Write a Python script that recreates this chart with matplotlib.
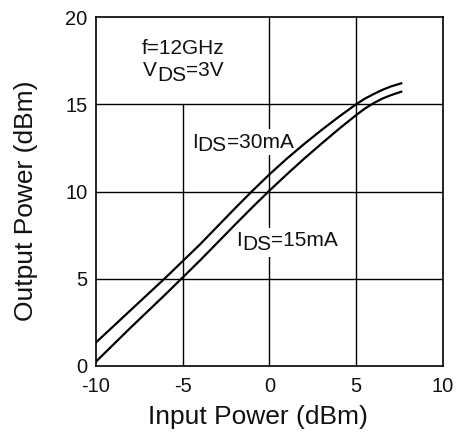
import matplotlib
matplotlib.use('Agg')
import matplotlib.pyplot as plt
from matplotlib.transforms import offset_copy

plt.rcParams['font.family'] = ['Liberation Sans', 'DejaVu Sans']
plt.rcParams['axes.unicode_minus'] = False

# input power (dBm)
pin = [-10, -8, -6, -4, -2, -1, 0, 1, 2, 3, 4, 5, 5.5, 6, 6.5, 7, 7.6]
# output power (dBm)
pout_30mA = [1.35, 3.2, 5.05, 6.97, 9.02, 10.02, 10.98, 11.88, 12.72, 13.52, 14.28, 15.0, 15.32, 15.58, 15.82, 16.02, 16.2]
pout_15mA = [0.25, 2.2, 4.1, 6.05, 8.08, 9.08, 10.05, 10.98, 11.88, 12.74, 13.58, 14.38, 14.75, 15.06, 15.32, 15.52, 15.72]

xticks = [-10, -5, 0, 5, 10]
yticks = [0, 5, 10, 15, 20]


def subLabel(ax, x, y, parts, size):
    # lay text pieces side by side, each piece (text, drop in points)
    fig = ax.figure
    renderer = fig.canvas.get_renderer()
    dx = 0
    for s, dy in parts:
        tr = offset_copy(ax.transData, fig=fig, x=dx, y=-dy, units='points')
        # white box under the piece, hides the grid
        ax.text(x, y, s, transform=tr, fontsize=size, va='baseline', ha='left',
                color=(0, 0, 0, 0), zorder=2,
                bbox=dict(facecolor='white', edgecolor='none', pad=2.5))
        t = ax.text(x, y, s, transform=tr, fontsize=size, va='baseline', ha='left',
                    color='#111111', zorder=3)
        w = t.get_window_extent(renderer).width
        dx += w * 72.0 / fig.dpi


fig = plt.figure(figsize=(4.57, 4.37), dpi=100)
ax = fig.add_axes([0.210, 0.1625, 0.759, 0.7985])

# grid drawn by hand, the -5 line stops under the condition box
ax.vlines([0, 5], 0, 20, color='black', linewidth=1.0, zorder=1)
ax.vlines([-5], 0, 15, color='black', linewidth=1.0, zorder=1)
ax.hlines([5, 10, 15], -10, 10, color='black', linewidth=1.0, zorder=1)

ax.plot(pin, pout_30mA, color='black', linewidth=1.6, zorder=4)
ax.plot(pin, pout_15mA, color='black', linewidth=1.6, zorder=4)

ax.set_xlim(-10, 10)
ax.set_ylim(0, 20)
ax.set_xticks(xticks)
ax.set_yticks(yticks)
ax.tick_params(length=0, labelsize=14.5, colors='#111111')
ax.tick_params(axis='x', pad=8)
ax.tick_params(axis='y', pad=6)
for sp in ax.spines.values():
    sp.set_linewidth(1.2)

subLabel(ax, -7.36, 17.9, [('f=12GHz', 0)], 15)
subLabel(ax, -7.29, 16.6, [('V', 0), ('DS', 3.5), ('=3V', 0)], 15)
subLabel(ax, -4.47, 12.5, [('I', 0), ('DS', 2.5), ('=30mA', 0)], 15)
subLabel(ax, -1.92, 6.85, [('I', 0), ('DS', 2.5), ('=15mA', 0)], 15)

ax.set_xlabel('Input Power (dBm)', fontsize=19, color='#111111')
ax.set_ylabel('Output Power (dBm)', fontsize=19, color='#111111')
ax.xaxis.set_label_coords(0.467, -0.112)
ax.yaxis.set_label_coords(-0.167, 0.473)

fig.savefig('out.png', dpi=100)
